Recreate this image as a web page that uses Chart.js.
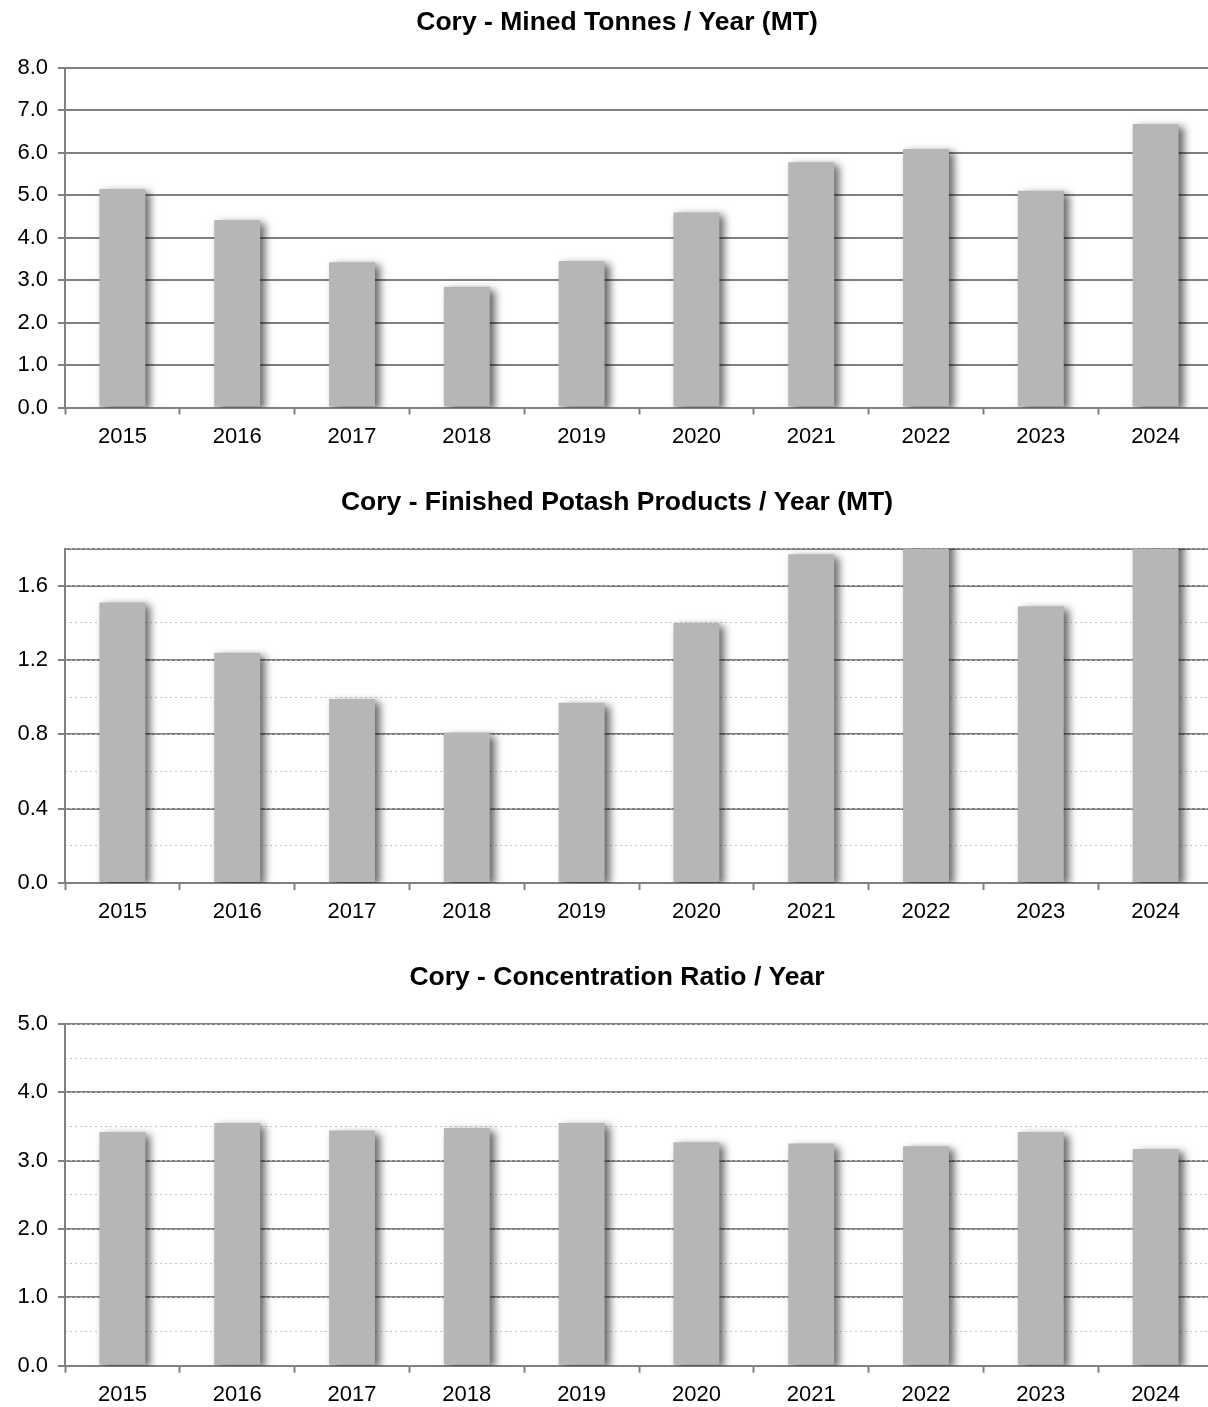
<!DOCTYPE html>
<html>
<head>
<meta charset="utf-8">
<script src="https://cdn.jsdelivr.net/npm/chart.js@4.4.1/dist/chart.umd.min.js"></script>
<style>
  html, body { margin: 0; padding: 0; background: #ffffff; }
  #page { position: relative; width: 1208px; height: 1407px; overflow: hidden; background: #ffffff; }
  #page canvas { position: absolute; left: 0; }
</style>
</head>
<body>
<div id="page">
  <canvas id="mined" width="1234" height="470" style="top:0px"></canvas>
  <canvas id="finished" width="1234" height="475" style="top:470px"></canvas>
  <canvas id="ratio" width="1234" height="462" style="top:945px"></canvas>
</div>
<script>
// Cory mine, annual figures
const years = ['2015', '2016', '2017', '2018', '2019', '2020', '2021', '2022', '2023', '2024'];
const minedTonnes = [5.14, 4.41, 3.42, 2.84, 3.45, 4.59, 5.77, 6.08, 5.10, 6.67];
const finishedProducts = [1.51, 1.24, 0.99, 0.81, 0.97, 1.40, 1.77, 1.89, 1.49, 2.10];
const concentrationRatio = [3.42, 3.55, 3.44, 3.48, 3.55, 3.27, 3.25, 3.21, 3.42, 3.17];

const titles = [
  'Cory - Mined Tonnes / Year (MT)',
  'Cory - Finished Potash Products / Year (MT)',
  'Cory - Concentration Ratio / Year'
];

const FONT = "'Liberation Sans', Arial, sans-serif";
const GRID = '#808080';
const MINOR = '#c4c4c4';
const BAR = '#b6b6b6';

// soft drop shadow behind the bars
const barShadow = {
  id: 'barShadow',
  beforeDatasetsDraw(chart) {
    const c = chart.ctx;
    c.save();
    c.shadowColor = 'rgba(0,0,0,0.6)';
    c.shadowBlur = 8;
    c.shadowOffsetX = 5;
    c.shadowOffsetY = 3;
  },
  afterDatasetsDraw(chart) {
    chart.ctx.restore();
  }
};

// heading centred on the canvas, above the plot
const chartHeading = {
  id: 'chartHeading',
  afterDraw(chart, args, opts) {
    const c = chart.ctx;
    c.save();
    c.font = 'bold 26.5px ' + FONT;
    c.fillStyle = '#000';
    c.textAlign = 'center';
    c.textBaseline = 'middle';
    c.fillText(opts.text, chart.width / 2, opts.y);
    c.restore();
  }
};

function onStep(v, step) {
  const r = v / step;
  return Math.abs(r - Math.round(r)) < 1e-6;
}

function makeChart(id, title, values, axis) {
  const {max, major, minor, top, titleY, xHeight} = axis;
  const step = minor || major;
  const isMajor = v => onStep(v, major);
  const isTop = v => Math.abs(v - max) < 1e-6;

  const scales = {
    x: {
      type: 'category',
      offset: true,
      grid: {
        offset: true,
        drawOnChartArea: false,
        drawTicks: true,
        tickLength: 7,
        tickColor: GRID,
        tickWidth: 2
      },
      border: { display: true, color: GRID, width: 2 },
      ticks: { color: '#000', font: { family: FONT, size: 22 }, padding: 9, maxRotation: 0, autoSkip: false },
      afterFit(s) { s.height = xHeight; }
    },
    y: {
      position: 'left',
      min: 0,
      max: max,
      grid: {
        color: ctx => (isMajor(ctx.tick.value) || isTop(ctx.tick.value)) ? GRID : 'rgba(0,0,0,0)',
        lineWidth: 2,
        tickLength: 7,
        tickColor: ctx => isMajor(ctx.tick.value) ? GRID : 'rgba(0,0,0,0)',
        tickWidth: 2
      },
      border: { display: true, color: GRID, width: 2 },
      ticks: {
        stepSize: step,
        autoSkip: false,
        color: '#000',
        font: { family: FONT, size: 22 },
        padding: 10,
        callback: v => isMajor(v) ? v.toFixed(1) : ''
      },
      afterFit(s) { s.width = 65; }
    }
  };

  if (minor) {
    // dotted minor gridlines
    scales.yMinor = {
      position: 'left',
      min: 0,
      max: max,
      grid: { color: MINOR, lineWidth: 1, drawTicks: false },
      border: { display: false, dash: [2, 3] },
      ticks: { display: false, stepSize: minor, autoSkip: false },
      afterFit(s) { s.width = 0; }
    };
  }

  return new Chart(document.getElementById(id), {
    type: 'bar',
    data: {
      labels: years,
      datasets: [{
        data: values,
        backgroundColor: BAR,
        borderWidth: 0,
        barPercentage: 0.4,
        categoryPercentage: 1.0,
        yAxisID: 'y'
      }]
    },
    options: {
      responsive: false,
      animation: false,
      devicePixelRatio: 1,
      layout: { padding: { left: 0, right: 21, top: top, bottom: 0 } },
      plugins: {
        legend: { display: false },
        tooltip: { enabled: false },
        title: { display: false },
        chartHeading: { text: title, y: titleY }
      },
      scales: scales
    },
    plugins: [barShadow, chartHeading]
  });
}

makeChart('mined', titles[0], minedTonnes,
  { max: 8, major: 1, minor: 0, top: 67.5, titleY: 23, xHeight: 62.5 });
makeChart('finished', titles[1], finishedProducts,
  { max: 1.8, major: 0.4, minor: 0.2, top: 78.6, titleY: 33, xHeight: 62 });
makeChart('ratio', titles[2], concentrationRatio,
  { max: 5, major: 1, minor: 0.5, top: 79, titleY: 33, xHeight: 41.3 });
</script>
</body>
</html>
